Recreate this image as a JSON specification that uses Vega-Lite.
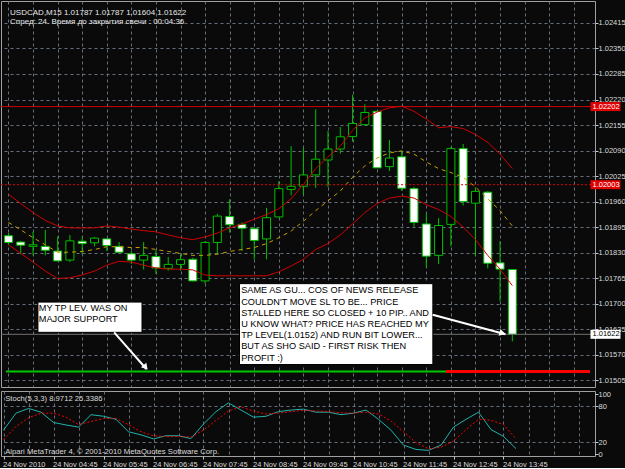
{
  "$schema": "https://vega.github.io/schema/vega-lite/v6.json",
  "background": "#0a0a0a",
  "padding": 0,
  "spacing": 1,
  "config": {
    "view": {"stroke": "#a0a0a0", "strokeWidth": 1},
    "font": "Liberation Sans",
    "axis": {"labelFont": "Liberation Sans", "labelColor": "#dcdcdc", "labelFontSize": 7.5, "gridColor": "#66707c", "gridDash": [3, 3], "gridWidth": 1, "tickColor": "#c8c8c8", "domain": false, "labelOverlap": false, "labelSeparation": 0, "labelBound": false}
  },
  "datasets": {
    "bars": [
      {"t": "2010-11-24 03:45", "open": 1.01873, "high": 1.01880, "low": 1.01850, "close": 1.01856, "bbUp": 1.01979, "bbMid": 1.01907, "bbLow": 1.01850, "k": 39.7, "d": 24.1},
      {"t": "2010-11-24 04:00", "open": 1.01857, "high": 1.01860, "low": 1.01826, "close": 1.01849, "bbUp": 1.01955, "bbMid": 1.01888, "bbLow": 1.01828, "k": 68.1, "d": 45.9},
      {"t": "2010-11-24 04:15", "open": 1.01846, "high": 1.01883, "low": 1.01823, "close": 1.01850, "bbUp": 1.01932, "bbMid": 1.01868, "bbLow": 1.01806, "k": 75.9, "d": 60.3},
      {"t": "2010-11-24 04:30", "open": 1.01846, "high": 1.01888, "low": 1.01823, "close": 1.01836, "bbUp": 1.01912, "bbMid": 1.01850, "bbLow": 1.01783, "k": 69.7, "d": 68.1},
      {"t": "2010-11-24 04:45", "open": 1.01834, "high": 1.01871, "low": 1.01808, "close": 1.01809, "bbUp": 1.01898, "bbMid": 1.01831, "bbLow": 1.01764, "k": 52.6, "d": 68.1},
      {"t": "2010-11-24 05:00", "open": 1.01811, "high": 1.01875, "low": 1.01806, "close": 1.01860, "bbUp": 1.01893, "bbMid": 1.01831, "bbLow": 1.01766, "k": 48.4, "d": 61.4},
      {"t": "2010-11-24 05:15", "open": 1.01859, "high": 1.01871, "low": 1.01826, "close": 1.01853, "bbUp": 1.01893, "bbMid": 1.01833, "bbLow": 1.01773, "k": 44.8, "d": 49.0},
      {"t": "2010-11-24 05:30", "open": 1.01855, "high": 1.01870, "low": 1.01846, "close": 1.01867, "bbUp": 1.01893, "bbMid": 1.01838, "bbLow": 1.01783, "k": 65.5, "d": 54.1},
      {"t": "2010-11-24 05:45", "open": 1.01865, "high": 1.01865, "low": 1.01834, "close": 1.01848, "bbUp": 1.01898, "bbMid": 1.01845, "bbLow": 1.01798, "k": 62.9, "d": 59.3},
      {"t": "2010-11-24 06:00", "open": 1.01846, "high": 1.01857, "low": 1.01828, "close": 1.01831, "bbUp": 1.01895, "bbMid": 1.01845, "bbLow": 1.01808, "k": 57.8, "d": 59.3},
      {"t": "2010-11-24 06:15", "open": 1.01827, "high": 1.01834, "low": 1.01801, "close": 1.01811, "bbUp": 1.01890, "bbMid": 1.01843, "bbLow": 1.01806, "k": 37.1, "d": 49.0},
      {"t": "2010-11-24 06:30", "open": 1.01811, "high": 1.01857, "low": 1.01787, "close": 1.01823, "bbUp": 1.01886, "bbMid": 1.01843, "bbLow": 1.01798, "k": 31.9, "d": 37.1},
      {"t": "2010-11-24 06:45", "open": 1.01820, "high": 1.01836, "low": 1.01776, "close": 1.01791, "bbUp": 1.01883, "bbMid": 1.01838, "bbLow": 1.01791, "k": 25.2, "d": 30.3},
      {"t": "2010-11-24 07:00", "open": 1.01790, "high": 1.01819, "low": 1.01784, "close": 1.01800, "bbUp": 1.01875, "bbMid": 1.01833, "bbLow": 1.01788, "k": 30.4, "d": 29.3},
      {"t": "2010-11-24 07:15", "open": 1.01800, "high": 1.01826, "low": 1.01784, "close": 1.01812, "bbUp": 1.01868, "bbMid": 1.01828, "bbLow": 1.01788, "k": 30.4, "d": 29.3},
      {"t": "2010-11-24 07:30", "open": 1.01813, "high": 1.01817, "low": 1.01757, "close": 1.01758, "bbUp": 1.01863, "bbMid": 1.01823, "bbLow": 1.01786, "k": 25.7, "d": 28.3},
      {"t": "2010-11-24 07:45", "open": 1.01758, "high": 1.01859, "low": 1.01751, "close": 1.01856, "bbUp": 1.01870, "bbMid": 1.01823, "bbLow": 1.01773, "k": 50.0, "d": 39.7},
      {"t": "2010-11-24 08:00", "open": 1.01856, "high": 1.01929, "low": 1.01826, "close": 1.01923, "bbUp": 1.01880, "bbMid": 1.01826, "bbLow": 1.01771, "k": 70.7, "d": 56.2},
      {"t": "2010-11-24 08:15", "open": 1.01922, "high": 1.01966, "low": 1.01881, "close": 1.01901, "bbUp": 1.01893, "bbMid": 1.01833, "bbLow": 1.01771, "k": 85.2, "d": 71.7},
      {"t": "2010-11-24 08:30", "open": 1.01902, "high": 1.01907, "low": 1.01834, "close": 1.01892, "bbUp": 1.01903, "bbMid": 1.01838, "bbLow": 1.01771, "k": 73.3, "d": 78.4},
      {"t": "2010-11-24 08:45", "open": 1.01891, "high": 1.01896, "low": 1.01813, "close": 1.01861, "bbUp": 1.01915, "bbMid": 1.01843, "bbLow": 1.01771, "k": 61.4, "d": 71.7},
      {"t": "2010-11-24 09:00", "open": 1.01865, "high": 1.01944, "low": 1.01813, "close": 1.01919, "bbUp": 1.01927, "bbMid": 1.01853, "bbLow": 1.01771, "k": 62.9, "d": 66.6},
      {"t": "2010-11-24 09:15", "open": 1.01921, "high": 1.02012, "low": 1.01919, "close": 1.01993, "bbUp": 1.01942, "bbMid": 1.01868, "bbLow": 1.01781, "k": 70.7, "d": 68.1},
      {"t": "2010-11-24 09:30", "open": 1.01991, "high": 1.02101, "low": 1.01976, "close": 1.01999, "bbUp": 1.01967, "bbMid": 1.01885, "bbLow": 1.01796, "k": 73.3, "d": 70.7},
      {"t": "2010-11-24 09:45", "open": 1.01999, "high": 1.02097, "low": 1.01979, "close": 1.02028, "bbUp": 1.02004, "bbMid": 1.01910, "bbLow": 1.01813, "k": 74.8, "d": 72.8},
      {"t": "2010-11-24 10:00", "open": 1.02028, "high": 1.02195, "low": 1.01995, "close": 1.02068, "bbUp": 1.02044, "bbMid": 1.01937, "bbLow": 1.01838, "k": 69.7, "d": 71.7},
      {"t": "2010-11-24 10:15", "open": 1.02066, "high": 1.02140, "low": 1.01997, "close": 1.02094, "bbUp": 1.02074, "bbMid": 1.01962, "bbLow": 1.01853, "k": 69.7, "d": 70.7},
      {"t": "2010-11-24 10:30", "open": 1.02094, "high": 1.02150, "low": 1.02082, "close": 1.02125, "bbUp": 1.02101, "bbMid": 1.01987, "bbLow": 1.01875, "k": 65.5, "d": 68.6},
      {"t": "2010-11-24 10:45", "open": 1.02126, "high": 1.02232, "low": 1.02113, "close": 1.02159, "bbUp": 1.02141, "bbMid": 1.02022, "bbLow": 1.01903, "k": 68.1, "d": 68.1},
      {"t": "2010-11-24 11:00", "open": 1.02156, "high": 1.02208, "low": 1.02156, "close": 1.02187, "bbUp": 1.02173, "bbMid": 1.02051, "bbLow": 1.01932, "k": 73.3, "d": 69.7},
      {"t": "2010-11-24 11:15", "open": 1.02190, "high": 1.02191, "low": 1.02046, "close": 1.02046, "bbUp": 1.02188, "bbMid": 1.02071, "bbLow": 1.01955, "k": 57.8, "d": 66.6},
      {"t": "2010-11-24 11:30", "open": 1.02049, "high": 1.02117, "low": 1.02038, "close": 1.02071, "bbUp": 1.02199, "bbMid": 1.02084, "bbLow": 1.01969, "k": 39.7, "d": 55.2},
      {"t": "2010-11-24 11:45", "open": 1.02074, "high": 1.02090, "low": 1.01987, "close": 1.01994, "bbUp": 1.02203, "bbMid": 1.02089, "bbLow": 1.01974, "k": 14.8, "d": 37.1},
      {"t": "2010-11-24 12:00", "open": 1.01993, "high": 1.01997, "low": 1.01896, "close": 1.01907, "bbUp": 1.02190, "bbMid": 1.02081, "bbLow": 1.01969, "k": 7.6, "d": 19.0},
      {"t": "2010-11-24 12:15", "open": 1.01903, "high": 1.01929, "low": 1.01793, "close": 1.01821, "bbUp": 1.02170, "bbMid": 1.02061, "bbLow": 1.01952, "k": 6.0, "d": 8.6},
      {"t": "2010-11-24 12:30", "open": 1.01823, "high": 1.01918, "low": 1.01801, "close": 1.01899, "bbUp": 1.02148, "bbMid": 1.02044, "bbLow": 1.01940, "k": 14.8, "d": 11.2},
      {"t": "2010-11-24 12:45", "open": 1.01902, "high": 1.02099, "low": 1.01846, "close": 1.02095, "bbUp": 1.02151, "bbMid": 1.02034, "bbLow": 1.01922, "k": 44.8, "d": 21.6},
      {"t": "2010-11-24 13:00", "open": 1.02095, "high": 1.02107, "low": 1.01950, "close": 1.01960, "bbUp": 1.02146, "bbMid": 1.02022, "bbLow": 1.01895, "k": 57.8, "d": 40.7},
      {"t": "2010-11-24 13:15", "open": 1.01956, "high": 1.01995, "low": 1.01821, "close": 1.01986, "bbUp": 1.02131, "bbMid": 1.01997, "bbLow": 1.01863, "k": 69.7, "d": 57.8},
      {"t": "2010-11-24 13:30", "open": 1.01984, "high": 1.01987, "low": 1.01790, "close": 1.01803, "bbUp": 1.02111, "bbMid": 1.01967, "bbLow": 1.01823, "k": 40.7, "d": 56.2},
      {"t": "2010-11-24 13:45", "open": 1.01804, "high": 1.01859, "low": 1.01706, "close": 1.01788, "bbUp": 1.02081, "bbMid": 1.01937, "bbLow": 1.01788, "k": 29.3, "d": 49.0},
      {"t": "2010-11-24 14:00", "open": 1.01787, "high": 1.01787, "low": 1.01604, "close": 1.01622, "bbUp": 1.02044, "bbMid": 1.01898, "bbLow": 1.01746, "k": 8.97, "d": 25.34}
    ],
    "notes": [
      {"t": "2010-11-24 04:22", "p": 1.016891, "text": "MY TP LEV. WAS ON"},
      {"t": "2010-11-24 04:22", "p": 1.016606, "text": "MAJOR SUPPORT"},
      {"t": "2010-11-24 08:29", "p": 1.017337, "text": "SAME AS GU... COS OF NEWS RELEASE"},
      {"t": "2010-11-24 08:29", "p": 1.017052, "text": "COULDN'T MOVE SL TO BE... PRICE"},
      {"t": "2010-11-24 08:29", "p": 1.016767, "text": "STALLED HERE SO CLOSED + 10 PIP.. AND"},
      {"t": "2010-11-24 08:29", "p": 1.016481, "text": "U KNOW WHAT? PRICE HAS REACHED MY"},
      {"t": "2010-11-24 08:29", "p": 1.016196, "text": "TP LEVEL(1.0152) AND RUN BIT LOWER..."},
      {"t": "2010-11-24 08:29", "p": 1.015911, "text": "BUT AS SHO SAID - FIRST RISK THEN"},
      {"t": "2010-11-24 08:29", "p": 1.015626, "text": "PROFIT :)"}
    ],
    "boxes": [
      {"t0": "2010-11-24 04:21", "t1": "2010-11-24 06:28", "p0": 1.01704, "p1": 1.01627},
      {"t0": "2010-11-24 08:27", "t1": "2010-11-24 12:23", "p0": 1.01751, "p1": 1.01545}
    ],
    "arrows": [
      {"t0": "2010-11-24 05:54", "p0": 1.01627, "t1": "2010-11-24 06:33:36", "p1": 1.01533},
      {"t0": "2010-11-24 12:22:48", "p0": 1.01672, "t1": "2010-11-24 13:51:36", "p1": 1.01622}
    ],
    "header": [
      {"t": "2010-11-24 03:47", "p": 1.02440, "text": "USDCAD,M15  1.01787 1.01787 1.01604 1.01622"},
      {"t": "2010-11-24 03:47", "p": 1.02417, "text": "Спред: 24. Время до закрытия свечи : 00:04:36"}
    ],
    "tags": [
      {"p": 1.02202, "label": "1.02202"},
      {"p": 1.02003, "label": "1.02003"},
      {"p": 1.01622, "label": "1.01622"}
    ],
    "stochText": [
      {"t": "2010-11-24 03:47", "v": 92, "text": "Stoch(5,3,3) 8.9712 25.3386"},
      {"t": "2010-11-24 03:47", "v": 3.5, "text": "Alpari MetaTrader 4, © 2001-2010 MetaQuotes Software Corp."}
    ]
  },
  "vconcat": [
    {
      "width": 594,
      "height": 386,
      "layer": [
        {
          "data": {"name": "bars"},
          "mark": {"type": "rule", "color": "#00c000", "strokeWidth": 1},
          "encoding": {
            "x": {"field": "t", "type": "temporal", "title": null,
              "scale": {"domain": [{"year": 2010, "month": 11, "date": 24, "hours": 3, "minutes": 42}, {"year": 2010, "month": 11, "date": 24, "hours": 15, "minutes": 34, "seconds": 48}]},
              "axis": {"orient": "bottom", "labels": false, "ticks": false, "domain": false, "grid": true, "tickCount": 200,
                "values": [{"year":2010,"month":11,"date":24,"hours":3,"minutes":45},{"year":2010,"month":11,"date":24,"hours":4,"minutes":15},{"year":2010,"month":11,"date":24,"hours":4,"minutes":45},{"year":2010,"month":11,"date":24,"hours":5,"minutes":15},{"year":2010,"month":11,"date":24,"hours":5,"minutes":45},{"year":2010,"month":11,"date":24,"hours":6,"minutes":15},{"year":2010,"month":11,"date":24,"hours":6,"minutes":45},{"year":2010,"month":11,"date":24,"hours":7,"minutes":15},{"year":2010,"month":11,"date":24,"hours":7,"minutes":45},{"year":2010,"month":11,"date":24,"hours":8,"minutes":15},{"year":2010,"month":11,"date":24,"hours":8,"minutes":45},{"year":2010,"month":11,"date":24,"hours":9,"minutes":15},{"year":2010,"month":11,"date":24,"hours":9,"minutes":45},{"year":2010,"month":11,"date":24,"hours":10,"minutes":15},{"year":2010,"month":11,"date":24,"hours":10,"minutes":45},{"year":2010,"month":11,"date":24,"hours":11,"minutes":15},{"year":2010,"month":11,"date":24,"hours":11,"minutes":45},{"year":2010,"month":11,"date":24,"hours":12,"minutes":15},{"year":2010,"month":11,"date":24,"hours":12,"minutes":45},{"year":2010,"month":11,"date":24,"hours":13,"minutes":15},{"year":2010,"month":11,"date":24,"hours":13,"minutes":45},{"year":2010,"month":11,"date":24,"hours":14,"minutes":15},{"year":2010,"month":11,"date":24,"hours":14,"minutes":45},{"year":2010,"month":11,"date":24,"hours":15,"minutes":15}]}},
            "y": {"field": "low", "type": "quantitative", "title": null,
              "scale": {"domain": [1.015005, 1.024582], "zero": false, "nice": false},
              "axis": {"orient": "right", "format": ".5f", "grid": true, "ticks": true, "tickSize": 3, "tickCount": 200, "labelPadding": 0, "labelOverlap": false, "labelSeparation": 0, "labelFlush": false, "labelBound": false, "domain": false,
                "values": [1.01505, 1.0157, 1.01635, 1.017, 1.01765, 1.0183, 1.01895, 1.0196, 1.02025, 1.0209, 1.02155, 1.0222, 1.02285, 1.0235, 1.02415]}},
            "y2": {"field": "high"}
          }
        },
        {
          "data": {"name": "bars"},
          "mark": {"type": "bar", "size": 8, "stroke": "#00c000", "strokeWidth": 1},
          "encoding": {
            "x": {"field": "t", "type": "temporal", "title": null},
            "y": {"field": "open", "type": "quantitative", "title": null},
            "y2": {"field": "close"},
            "fill": {"condition": {"test": "datum.close > datum.open", "value": "#000000"}, "value": "#ffffff"}
          }
        },
        {
          "data": {"name": "bars"},
          "mark": {"type": "line", "color": "#d00000", "strokeWidth": 1},
          "encoding": {
            "x": {"field": "t", "type": "temporal", "title": null},
            "y": {"field": "bbUp", "type": "quantitative", "title": null}
          }
        },
        {
          "data": {"name": "bars"},
          "mark": {"type": "line", "color": "#d00000", "strokeWidth": 1},
          "encoding": {
            "x": {"field": "t", "type": "temporal", "title": null},
            "y": {"field": "bbLow", "type": "quantitative", "title": null}
          }
        },
        {
          "data": {"name": "bars"},
          "mark": {"type": "line", "color": "#c8a000", "strokeWidth": 1, "strokeDash": [4, 4]},
          "encoding": {
            "x": {"field": "t", "type": "temporal", "title": null},
            "y": {"field": "bbMid", "type": "quantitative", "title": null}
          }
        },
        {
          "data": {"values": [{"p": 1.02202}]},
          "mark": {"type": "rule", "color": "#d00000", "strokeWidth": 1},
          "encoding": {"y": {"field": "p", "type": "quantitative", "title": null}}
        },
        {
          "data": {"values": [{"p": 1.02003}]},
          "mark": {"type": "rule", "color": "#e00000", "strokeWidth": 1, "strokeDash": [2, 2]},
          "encoding": {"y": {"field": "p", "type": "quantitative", "title": null}}
        },
        {
          "data": {"values": [{"p": 1.01622}]},
          "mark": {"type": "rule", "color": "#707070", "strokeWidth": 1},
          "encoding": {"y": {"field": "p", "type": "quantitative", "title": null}}
        },
        {
          "data": {"values": [{"t0": "2010-11-24 03:42", "t1": "2010-11-24 12:39", "p": 1.01527}], "format": {"parse": {"t0": "date", "t1": "date"}}},
          "mark": {"type": "rule", "color": "#00c800", "strokeWidth": 2},
          "encoding": {
            "x": {"field": "t0", "type": "temporal", "title": null},
            "x2": {"field": "t1"},
            "y": {"field": "p", "type": "quantitative", "title": null}
          }
        },
        {
          "data": {"values": [{"t0": "2010-11-24 12:39", "t1": "2010-11-24 15:34:48", "p": 1.01527}], "format": {"parse": {"t0": "date", "t1": "date"}}},
          "mark": {"type": "rule", "color": "#ff0000", "strokeWidth": 3},
          "encoding": {
            "x": {"field": "t0", "type": "temporal", "title": null},
            "x2": {"field": "t1"},
            "y": {"field": "p", "type": "quantitative", "title": null}
          }
        },
        {
          "data": {"name": "boxes", "format": {"parse": {"t0": "date", "t1": "date"}}},
          "mark": {"type": "rect", "fill": "#ffffff", "stroke": "#000000", "strokeWidth": 1},
          "encoding": {
            "x": {"field": "t0", "type": "temporal", "title": null},
            "x2": {"field": "t1"},
            "y": {"field": "p0", "type": "quantitative", "title": null},
            "y2": {"field": "p1"}
          }
        },
        {
          "data": {"name": "notes"},
          "mark": {"type": "text", "align": "left", "baseline": "middle", "font": "Liberation Sans", "fontSize": 9.2, "color": "#000000"},
          "encoding": {
            "x": {"field": "t", "type": "temporal", "title": null},
            "y": {"field": "p", "type": "quantitative", "title": null},
            "text": {"field": "text"}
          }
        },
        {
          "data": {"name": "arrows", "format": {"parse": {"t0": "date", "t1": "date"}}},
          "mark": {"type": "rule", "color": "#ffffff", "strokeWidth": 2},
          "encoding": {
            "x": {"field": "t0", "type": "temporal", "title": null},
            "x2": {"field": "t1"},
            "y": {"field": "p0", "type": "quantitative", "title": null},
            "y2": {"field": "p1"}
          }
        },
        {
          "data": {"values": [{"t": "2010-11-24 06:32:24", "p": 1.01538}]},
          "mark": {"type": "point", "shape": "triangle-up", "filled": true, "color": "#ffffff", "opacity": 1, "size": 50, "angle": 139.5},
          "encoding": {
            "x": {"field": "t", "type": "temporal", "title": null},
            "y": {"field": "p", "type": "quantitative", "title": null}
          }
        },
        {
          "data": {"values": [{"t": "2010-11-24 13:48", "p": 1.01625}]},
          "mark": {"type": "point", "shape": "triangle-up", "filled": true, "color": "#ffffff", "opacity": 1, "size": 50, "angle": 104.5},
          "encoding": {
            "x": {"field": "t", "type": "temporal", "title": null},
            "y": {"field": "p", "type": "quantitative", "title": null}
          }
        },
        {
          "data": {"name": "header"},
          "mark": {"type": "text", "align": "left", "baseline": "middle", "font": "Liberation Sans", "fontSize": 8, "color": "#e8e8e8"},
          "encoding": {
            "x": {"field": "t", "type": "temporal", "title": null},
            "y": {"field": "p", "type": "quantitative", "title": null},
            "text": {"field": "text"}
          }
        },
        {
          "data": {"name": "tags"},
          "mark": {"type": "bar", "orient": "horizontal", "size": 9},
          "encoding": {
            "y": {"field": "p", "type": "quantitative", "title": null},
            "x": {"datum": {"year": 2010, "month": 11, "date": 24, "hours": 15, "minutes": 35, "seconds": 24}, "type": "temporal", "title": null},
            "x2": {"datum": {"year": 2010, "month": 11, "date": 24, "hours": 16, "minutes": 12}},
            "fill": {"condition": {"test": "datum.label == '1.01622'", "value": "#ffffff"}, "value": "#e00000"}
          }
        },
        {
          "data": {"name": "tags"},
          "mark": {"type": "text", "align": "left", "baseline": "middle", "dx": 2, "font": "Liberation Sans", "fontSize": 7.5},
          "encoding": {
            "y": {"field": "p", "type": "quantitative", "title": null},
            "x": {"datum": {"year": 2010, "month": 11, "date": 24, "hours": 15, "minutes": 35, "seconds": 24}, "type": "temporal", "title": null},
            "text": {"field": "label"},
            "color": {"condition": {"test": "datum.label == '1.01622'", "value": "#000000"}, "value": "#ffffff"}
          }
        }
      ]
    },
    {
      "width": 594,
      "height": 65,
      "layer": [
        {
          "data": {"name": "bars"},
          "mark": {"type": "line", "color": "#20b2aa", "strokeWidth": 1},
          "encoding": {
            "x": {"field": "t", "type": "temporal", "title": null,
              "scale": {"domain": [{"year": 2010, "month": 11, "date": 24, "hours": 3, "minutes": 42}, {"year": 2010, "month": 11, "date": 24, "hours": 15, "minutes": 34, "seconds": 48}]},
              "axis": {"orient": "bottom", "grid": true, "domain": false, "ticks": true, "tickSize": 3, "tickCount": 200, "labelPadding": 1, "labelAlign": "left", "labelBaseline": "top", "labelOffset": -1, "labelFlush": false, "labelOverlap": false, "labelSeparation": 0,
                "tickOpacity": {"condition": {"test": "minutes(datum.value) == 45 && hours(datum.value) <= 13", "value": 1}, "value": 0},
                "labelExpr": "hours(datum.value) == 3 ? '24 Nov 2010' : ((minutes(datum.value) == 45 && hours(datum.value) <= 13) ? timeFormat(datum.value, '%d %b %H:%M') : '')",
                "values": [{"year":2010,"month":11,"date":24,"hours":3,"minutes":45},{"year":2010,"month":11,"date":24,"hours":4,"minutes":15},{"year":2010,"month":11,"date":24,"hours":4,"minutes":45},{"year":2010,"month":11,"date":24,"hours":5,"minutes":15},{"year":2010,"month":11,"date":24,"hours":5,"minutes":45},{"year":2010,"month":11,"date":24,"hours":6,"minutes":15},{"year":2010,"month":11,"date":24,"hours":6,"minutes":45},{"year":2010,"month":11,"date":24,"hours":7,"minutes":15},{"year":2010,"month":11,"date":24,"hours":7,"minutes":45},{"year":2010,"month":11,"date":24,"hours":8,"minutes":15},{"year":2010,"month":11,"date":24,"hours":8,"minutes":45},{"year":2010,"month":11,"date":24,"hours":9,"minutes":15},{"year":2010,"month":11,"date":24,"hours":9,"minutes":45},{"year":2010,"month":11,"date":24,"hours":10,"minutes":15},{"year":2010,"month":11,"date":24,"hours":10,"minutes":45},{"year":2010,"month":11,"date":24,"hours":11,"minutes":15},{"year":2010,"month":11,"date":24,"hours":11,"minutes":45},{"year":2010,"month":11,"date":24,"hours":12,"minutes":15},{"year":2010,"month":11,"date":24,"hours":12,"minutes":45},{"year":2010,"month":11,"date":24,"hours":13,"minutes":15},{"year":2010,"month":11,"date":24,"hours":13,"minutes":45},{"year":2010,"month":11,"date":24,"hours":14,"minutes":15},{"year":2010,"month":11,"date":24,"hours":14,"minutes":45},{"year":2010,"month":11,"date":24,"hours":15,"minutes":15}]}},
            "y": {"field": "k", "type": "quantitative", "title": null,
              "scale": {"domain": [-3.33, 105], "zero": false, "nice": false},
              "axis": {"orient": "right", "values": [0, 20, 80, 100], "format": "d", "grid": true, "tickSize": 3, "tickCount": 200, "labelPadding": 0, "labelFlush": false, "labelOverlap": false, "labelSeparation": 0, "labelBound": false, "domain": false,
                "gridOpacity": {"condition": {"test": "datum.value == 20 || datum.value == 80", "value": 1}, "value": 0}}}
          }
        },
        {
          "data": {"name": "bars"},
          "mark": {"type": "line", "color": "#ff0000", "strokeWidth": 1, "strokeDash": [2, 2]},
          "encoding": {
            "x": {"field": "t", "type": "temporal", "title": null},
            "y": {"field": "d", "type": "quantitative", "title": null}
          }
        },
        {
          "data": {"name": "stochText"},
          "mark": {"type": "text", "align": "left", "baseline": "middle", "font": "Liberation Sans", "fontSize": 7.7, "color": "#dcdcdc"},
          "encoding": {
            "x": {"field": "t", "type": "temporal", "title": null},
            "y": {"field": "v", "type": "quantitative", "title": null},
            "text": {"field": "text"}
          }
        }
      ]
    }
  ]
}
